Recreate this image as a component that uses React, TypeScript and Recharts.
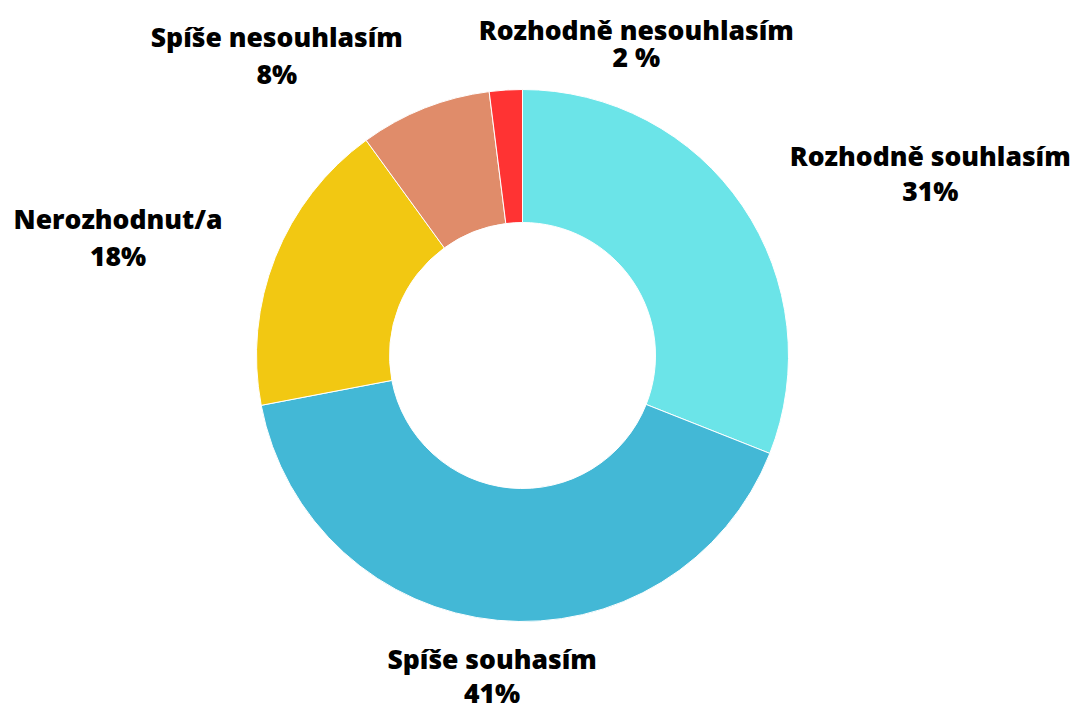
import { PieChart, Pie, Cell } from 'recharts'

const CATEGORIES = [
  'Rozhodně souhlasím',
  'Spíše souhasím',
  'Nerozhodnut/a',
  'Spíše nesouhlasím',
  'Rozhodně nesouhlasím',
]
const VALUES = [31, 41, 18, 8, 2]
const VALUE_LABELS = ['31%', '41%', '18%', '8%', '2 %']
const COLORS = ['#6BE4E8', '#43B8D6', '#F2C812', '#E08C6A', '#FF3333']

// label placement tweaks: angle shift from slice middle, distance from centre, line gap
const LABEL_LAYOUT = [
  { dAngle: -10.3, r: 446, gap: 35 },
  { dAngle: 0, r: 323, gap: 34 },
  { dAngle: 5.5, r: 421, gap: 37 },
  { dAngle: 17.8, r: 387, gap: 37 },
  { dAngle: -23.7, r: 331, gap: 27 },
]

const RADIAN = Math.PI / 180

const data = CATEGORIES.map((name, i) => ({ name, value: VALUES[i], label: VALUE_LABELS[i] }))

function renderLabel(props: any) {
  const { cx, cy, midAngle, index } = props
  const lay = LABEL_LAYOUT[index]
  const a = (midAngle + lay.dAngle) * RADIAN
  const x = cx + lay.r * Math.cos(a)
  const y = cy - lay.r * Math.sin(a)
  return (
    <text
      x={x}
      y={y}
      textAnchor="middle"
      fill="#000"
      fontFamily="'Open Sans', sans-serif"
      fontWeight={800}
      fontSize={26.5}
    >
      <tspan x={x} dy={-lay.gap / 2 + 9}>{CATEGORIES[index]}</tspan>
      <tspan x={x} dy={lay.gap}>{VALUE_LABELS[index]}</tspan>
    </text>
  )
}

export default function App() {
  return (
    <div style={{ position: 'absolute', left: 0, top: 0, background: '#fff' }}>
      <PieChart width={1077} height={706} margin={{ top: 0, right: 0, bottom: 0, left: 0 }}>
        <Pie
          data={data}
          dataKey="value"
          nameKey="name"
          cx={522.5}
          cy={355.5}
          innerRadius={133}
          outerRadius={266}
          startAngle={90}
          endAngle={-270}
          stroke="#fff"
          strokeWidth={1}
          label={renderLabel}
          labelLine={false}
          isAnimationActive={false}
        >
          {data.map((d, i) => (
            <Cell key={d.name} fill={COLORS[i]} />
          ))}
        </Pie>
      </PieChart>
    </div>
  )
}
